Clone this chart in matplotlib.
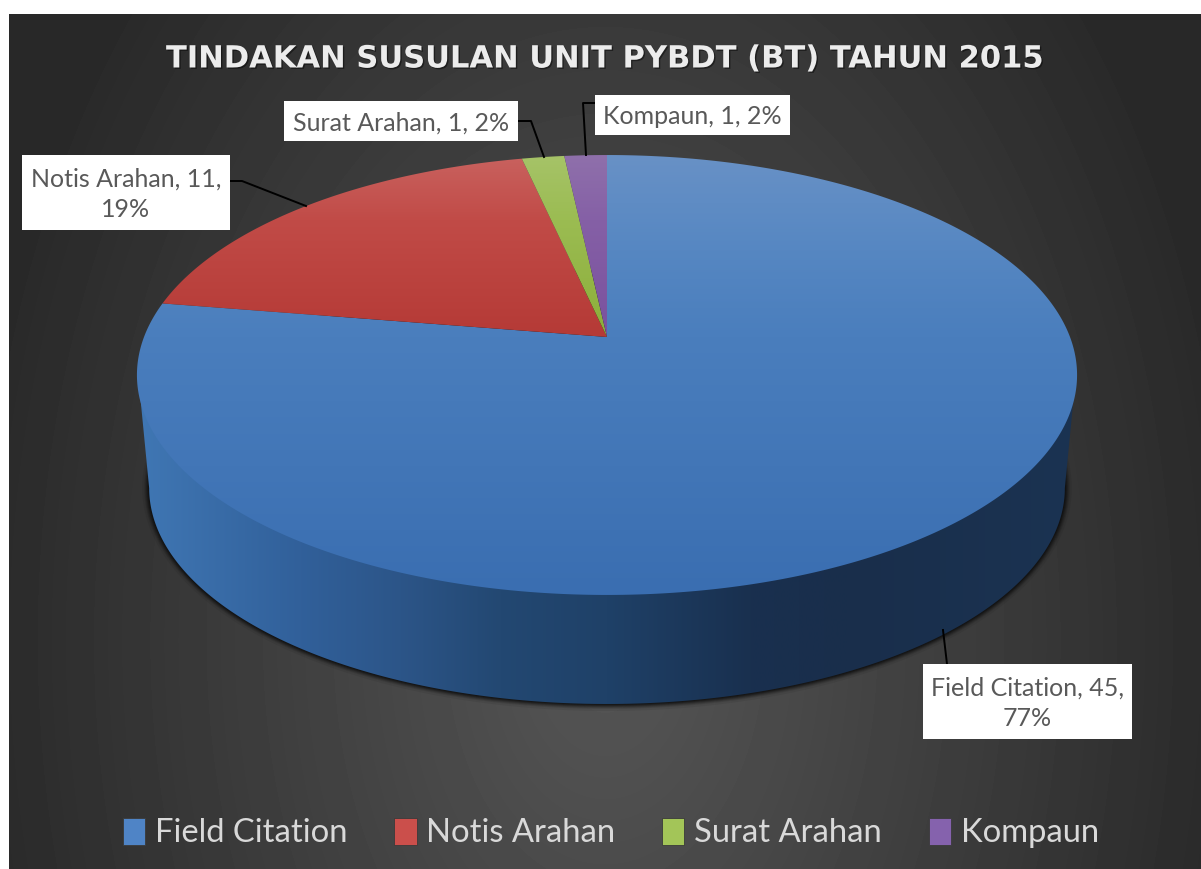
import numpy as np
from matplotlib import pyplot as plt
from matplotlib import patheffects as pe
from matplotlib.colors import to_rgb
from matplotlib.patches import Polygon, Rectangle, Patch

plt.rcParams['font.family'] = ['Lato', 'DejaVu Sans']

title = 'TINDAKAN SUSULAN UNIT PYBDT (BT) TAHUN 2015'
names = ['Field Citation', 'Notis Arahan', 'Surat Arahan', 'Kompaun']
values = [45, 11, 1, 1]
percents = [77, 19, 2, 2]
label_text = [
    f'{names[0]}, {values[0]},\n{percents[0]}%',
    f'{names[1]}, {values[1]},\n{percents[1]}%',
    f'{names[2]}, {values[2]}, {percents[2]}%',
    f'{names[3]}, {values[3]}, {percents[3]}%',
]
# left, top, right, bottom of each white label box
label_box = [(923, 664, 1132, 739), (22, 155, 230, 230), (284, 101, 518, 141), (595, 95, 790, 135)]
leaders = [
    [(943, 630), (947, 664)],
    [(230, 181), (242, 181), (306, 206)],
    [(518, 121), (531, 121), (544, 157)],
    [(595, 103), (583, 103), (586, 155)],
]
# colour stops of the slices, from the back of the pie to the front
top_cols = [
    [(155, '#6891c6'), (250, '#5687c2'), (337, '#4a7ebd'), (595, '#3a6eb1')],
    [(155, '#c9625f'), (220, '#c14b47'), (337, '#b53a36')],
    [(155, '#a6c368'), (220, '#9bbc52'), (337, '#8cae3a')],
    [(155, '#8f70ab'), (220, '#8560a6'), (337, '#7a519e')],
]
legend_cols = ['#4f84c6', '#cb4f4b', '#a3c558', '#8562ad']

W, H = 1201, 869
CX = 607

fig = plt.figure(figsize=(W / 100, H / 100), dpi=100, facecolor='white')
ax = fig.add_axes([0, 0, 1, 1])
ax.set_xlim(0, W)
ax.set_ylim(H, 0)
ax.axis('off')


def project(angle):
    # pie plane seen in perspective, angle in degrees clockwise from the top
    u = np.sin(np.radians(angle))
    v = np.cos(np.radians(angle))
    d = 1 + 0.1727 * v
    return CX + 463 * u / d, (337 - 155.2 * v) / d


def gradient(extent, stops, horizontal=False, clip=None, z=2):
    pos = [s[0] for s in stops]
    rgb = np.array([to_rgb(s[1]) for s in stops])
    t = np.linspace(extent[0], extent[1], 256) if horizontal else np.linspace(extent[2], extent[3], 256)
    line = np.stack([np.interp(t, pos, rgb[:, i]) for i in range(3)], axis=-1)
    img = line[None, :, :] if horizontal else line[:, None, :]
    im = ax.imshow(img, extent=(extent[0], extent[1], extent[3], extent[2]), aspect='auto',
                   zorder=z, interpolation='bilinear')
    if clip is not None:
        clip.set_transform(ax.transData)
        im.set_clip_path(clip)
    return im


# background
yy, xx = np.mgrid[14:H, 9:W]
r = np.sqrt(((xx - 605) / 650.0) ** 2 + ((yy - 640) / 1000.0) ** 2)
shade = (0x56 - (0x56 - 0x28) * np.clip(r, 0, 1)) / 255.0
ax.imshow(shade, extent=(9, W, H, 14), cmap='gray', vmin=0, vmax=1, aspect='auto', zorder=0)
ax.set_xlim(0, W)
ax.set_ylim(H, 0)

# side wall, lower rim is the top rim scaled and moved down
angles = np.linspace(0, 360, 721)
rim_x, rim_y = project(angles)
low_x = CX + (rim_x - CX) * 0.974
low_y = 488 + (rim_y - 375) * 0.982

for grow, a in zip([7, 5, 4, 3, 2, 1], [0.08, 0.12, 0.18, 0.25, 0.35, 0.45]):
    ax.add_patch(Polygon(np.column_stack([CX + (low_x - CX) * (1 + grow / 458), 488 + (low_y - 488) * (1 + grow / 216)]),
                         closed=True, fc='#0c0c0c', ec='none', alpha=a, zorder=1))

left = np.argmin(rim_x)
right = np.argmax(rim_x)
front = np.arange(right, left + 1)
# top edge of the wall runs a little under the top face
side = np.vstack([np.column_stack([CX + (rim_x[front] - CX) * 0.998, rim_y[front] - 3]),
                  np.column_stack([low_x[front][::-1], low_y[front][::-1]])])
gradient((137, 1078, 150, 710),
         [(137, '#4077b4'), (300, '#31609a'), (400, '#2c5588'), (500, '#234872'), (607, '#1f4168'),
          (750, '#19304f'), (850, '#192e4b'), (1078, '#1b3352')],
         horizontal=True, clip=Polygon(side, closed=True), z=2)

# top face
start = 0
total = sum(values)
for val, stops in zip(values, top_cols):
    a = np.linspace(start, start + 360 * val / total, max(int(val * 8), 12) * 4)
    x, y = project(a)
    pts = np.vstack([[CX, 337], np.column_stack([x, y])])
    gradient((pts[:, 0].min() - 1, pts[:, 0].max() + 1, stops[0][0], stops[-1][0]), stops,
             clip=Polygon(pts, closed=True), z=3)
    start += 360 * val / total

# labels
for box, txt, line in zip(label_box, label_text, leaders):
    ax.add_patch(Rectangle((box[0], box[1]), box[2] - box[0], box[3] - box[1], fc='white', ec='none', zorder=5))
    ax.plot([p[0] for p in line], [p[1] for p in line], color='black', lw=1.4, zorder=4,
            solid_joinstyle='round')
    ax.text((box[0] + box[2]) / 2, (box[1] + box[3]) / 2 + 2, txt, ha='center', va='center', color='#595959',
            fontsize=18, linespacing=1.42, zorder=6)

# title
ax.text(603, 59, title, ha='center', va='center', color='#ececec', fontsize=22, fontweight='bold',
        family=['DejaVu Sans'], zorder=6,
        path_effects=[pe.withSimplePatchShadow(offset=(1, -1), shadow_rgbFace='black', alpha=0.45)])

# legend
handles = [Patch(facecolor=c, edgecolor='#3a3a3a', linewidth=0.6, label=n) for n, c in zip(names, legend_cols)]
ax.legend(handles=handles, ncol=4, loc='center', bbox_to_anchor=(611 / W, 1 - 833 / H),
          frameon=False, fontsize=23.6, labelcolor='#d9d9d9', handlelength=0.68, handleheight=0.9,
          handletextpad=0.3, columnspacing=1.42, borderpad=0)

plt.savefig('out.png', dpi=100, facecolor='white')
